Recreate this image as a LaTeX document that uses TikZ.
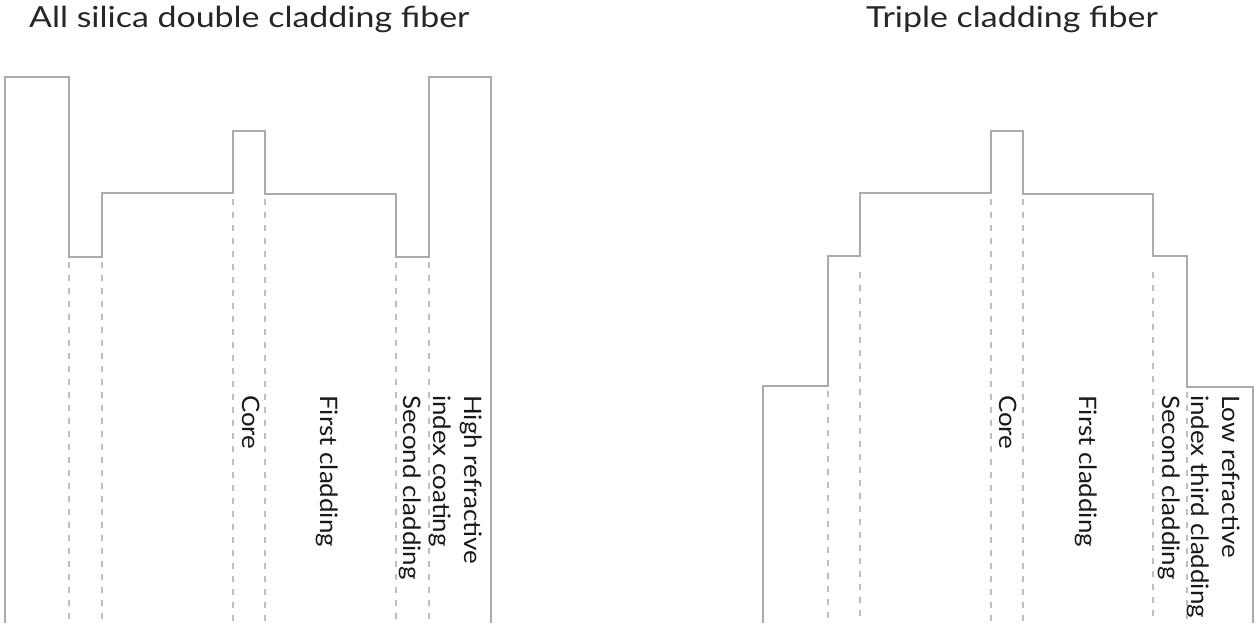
\documentclass[tikz,border=0pt]{standalone}
\usepackage{fontspec}
\setmainfont{Lato}
\newfontfamily\titlefont{Lato}[FakeStretch=1.17]
\newfontfamily\labelfont{Lato}[FakeStretch=1.08]
\begin{document}
\begin{tikzpicture}[x=1pt,y=-1pt,
  profile/.style={draw=black!33, line width=1.8pt, line join=miter},
  guide/.style={draw=black!25, line width=1.2pt, dash pattern=on 6pt off 7pt},
  title/.style={font=\titlefont\fontsize{29}{34}\selectfont, text=black!85, anchor=base west, inner sep=0pt},
  lbl/.style={font=\labelfont\fontsize{24}{31}\selectfont, text=black!90, rotate=-90, anchor=base west, inner sep=0pt, align=left}]
\useasboundingbox (0,0) rectangle (1260,634);
% titles
\node[title] (t1) at (29,28) {All silica double cladding fiber};
\node[title] (t2) at (866,28) {Triple cladding fiber};
% left profile
\draw[profile] (5,623) -- (5,77) -- (69,77) -- (69,257) -- (102,257) -- (102,193)
  -- (233,193) -- (233,131) -- (265,131) -- (265,194) -- (396,194) -- (396,257)
  -- (429,257) -- (429,77) -- (491,77) -- (491,623);
\foreach \x/\y in {69/262, 102/262, 233/199, 265/199, 396/262, 429/262}
  \draw[guide] (\x,\y) -- (\x,623);
% right profile
\draw[profile] (763,623) -- (763,386) -- (828,386) -- (828,256) -- (860,256) -- (860,193)
  -- (991,193) -- (991,131) -- (1023,131) -- (1023,194) -- (1153,194) -- (1153,256)
  -- (1187,256) -- (1187,387) -- (1253,387) -- (1253,623);
\foreach \x/\y in {828/391, 860/272, 991/199, 1023/199, 1153/272, 1187/392}
  \draw[guide] (\x,\y) -- (\x,623);
% left labels
\node[lbl] (l1) at (242,395) {Core};
\node[lbl] (l2) at (320,395) {First cladding};
\node[lbl] (l3) at (403,395) {Second cladding};
\node[lbl] (l4) at (433,395) {High refractive\\index coating};
% right labels
\node[lbl] (r1) at (999,395) {Core};
\node[lbl] (r2) at (1079,395) {First cladding};
\node[lbl] (r3) at (1162,395) {Second cladding};
\node[lbl] (r4) at (1191,395) {Low refractive\\index third cladding};
\end{tikzpicture}
\end{document}
